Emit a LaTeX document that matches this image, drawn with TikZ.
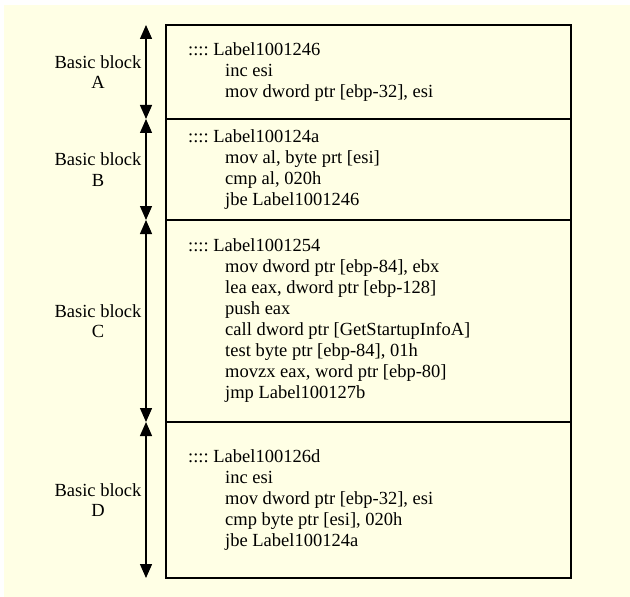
\documentclass[tikz,border=0pt]{standalone}
\usepackage{fontspec}
\setmainfont{Liberation Serif}
\usetikzlibrary{arrows.meta}
\definecolor{cream}{HTML}{FFFFE5}
\begin{document}
\begin{tikzpicture}[x=1bp,y=-1bp,
  blockbox/.style={draw, line width=1.3bp, fill=cream, minimum width=405bp, inner sep=0pt, outer sep=0pt},
  code/.style={align=left, anchor=west, inner sep=0pt, font=\fontsize{18.5bp}{21bp}\selectfont},
  side/.style={align=center, inner sep=0pt, font=\fontsize{18.5bp}{20.5bp}\selectfont},
  span/.style={line width=1.4bp, {Triangle[width=12bp,length=14bp]}-{Triangle[width=12bp,length=14bp]}}]
\useasboundingbox (0,0) rectangle (630,597);
\fill[cream] (4,5) rectangle (630,597);
% blocks
\node[blockbox, minimum height=94bp] (A) at (368.5,72) {};
\node[blockbox, minimum height=101bp] (B) at (368.5,169.5) {};
\node[blockbox, minimum height=202bp] (C) at (368.5,321) {};
\node[blockbox, minimum height=156bp] (D) at (368.5,500) {};
% reference columns
\coordinate (tx) at (188,0);
\coordinate (lx) at (98,0);
\coordinate (ax) at (146,0);
% code
\newcommand{\ind}{\hspace*{37bp}}
\node[code] (tA) at (tx |- A.center) {::::\ Label1001246\\ \ind inc esi\\ \ind mov dword ptr [ebp-32], esi};
\node[code] (tB) at (tx |- B.center) {::::\ Label100124a\\ \ind mov al, byte prt [esi]\\ \ind cmp al, 020h\\ \ind jbe Label1001246};
\node[code] (tC) at (tx |- C.center) {::::\ Label1001254\\ \ind mov dword ptr [ebp-84], ebx\\ \ind lea eax, dword ptr [ebp-128]\\ \ind push eax\\ \ind call dword ptr [GetStartupInfoA]\\ \ind test byte ptr [ebp-84], 01h\\ \ind movzx eax, word ptr [ebp-80]\\ \ind jmp Label100127b};
\node[code] (tD) at (tx |- D.center) {::::\ Label100126d\\ \ind inc esi\\ \ind mov dword ptr [ebp-32], esi\\ \ind cmp byte ptr [esi], 020h\\ \ind jbe Label100124a};
% side labels
\node[side] (lA) at (lx |- A.center) {Basic block\\A};
\node[side] (lB) at (lx |- B.center) {Basic block\\B};
\node[side] (lC) at (lx |- C.center) {Basic block\\C};
\node[side] (lD) at (lx |- D.center) {Basic block\\D};
% span arrows
\draw[span] (ax |- A.north) -- (ax |- A.south);
\draw[span] (ax |- B.north) -- (ax |- B.south);
\draw[span] (ax |- C.north) -- (ax |- C.south);
\draw[span] (ax |- D.north) -- (ax |- D.south);
\end{tikzpicture}
\end{document}
